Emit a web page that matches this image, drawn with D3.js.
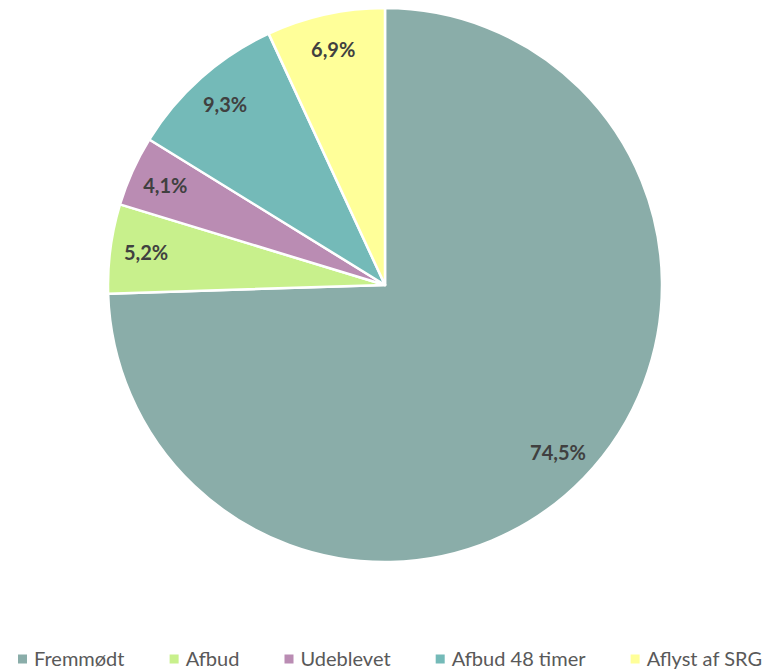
<!DOCTYPE html>
<html>
<head>
<meta charset="utf-8">
<script src="https://cdn.jsdelivr.net/npm/d3@7"></script>
<style>
  body { margin: 0; background: #fff; }
  text { font-family: Lato, "Open Sans", sans-serif; }
</style>
</head>
<body>
<svg width="769" height="671"></svg>
<script>
var categories = ["Fremmødt", "Afbud", "Udeblevet", "Afbud 48 timer", "Aflyst af SRG"];
var values = [74.5, 5.2, 4.1, 9.3, 6.9];
var labels = ["74,5%", "5,2%", "4,1%", "9,3%", "6,9%"];
var colors = ["#8aada9", "#c8f08c", "#ba8cb3", "#74bab8", "#ffff99"];

var svg = d3.select("svg"),
    width = +svg.attr("width"),
    height = +svg.attr("height");

var cx = 385, cy = 285, r = 277;

var pie = d3.pie().sort(null).value(d => d.v);
var arcs = pie(values.map((v, i) => ({ v: v, i: i })));

var arc = d3.arc().innerRadius(0).outerRadius(r);
var labelArc = d3.arc().innerRadius(r * 0.87).outerRadius(r * 0.87);

var g = svg.append("g").attr("transform", "translate(" + cx + "," + cy + ")");

g.selectAll("path")
  .data(arcs)
  .enter().append("path")
  .attr("d", arc)
  .attr("fill", d => colors[d.index])
  .attr("stroke", "#fff")
  .attr("stroke-width", 2.5)
  .attr("stroke-linejoin", "round");

g.selectAll("text.lbl")
  .data(arcs)
  .enter().append("text")
  .attr("class", "lbl")
  .attr("transform", d => "translate(" + labelArc.centroid(d) + ")")
  .attr("text-anchor", "middle")
  .attr("dy", "0.35em")
  .attr("font-size", 20)
  .attr("font-weight", "bold")
  .attr("fill", "#404040")
  .text(d => labels[d.index]);

// legend, spread across the bottom
var legend = svg.append("g").attr("transform", "translate(0,659)");
var items = legend.selectAll("g")
  .data(categories)
  .enter().append("g");

items.append("rect")
  .attr("width", 9).attr("height", 9)
  .attr("y", -4.5)
  .attr("fill", (d, i) => colors[i]);

items.append("text")
  .attr("x", 16)
  .attr("dy", "0.35em")
  .attr("font-size", 20)
  .attr("fill", "#595959")
  .text(d => d);

var left = 18, right = 762, widths = [];
items.each(function () {
  widths.push(16 + d3.select(this).select("text").node().getComputedTextLength());
});
var gap = (right - left - d3.sum(widths)) / (widths.length - 1);
var x = left, pos = [];
widths.forEach(w => { pos.push(x); x += w + gap; });
items.attr("transform", (d, i) => "translate(" + pos[i] + ",0)");
</script>
</body>
</html>
